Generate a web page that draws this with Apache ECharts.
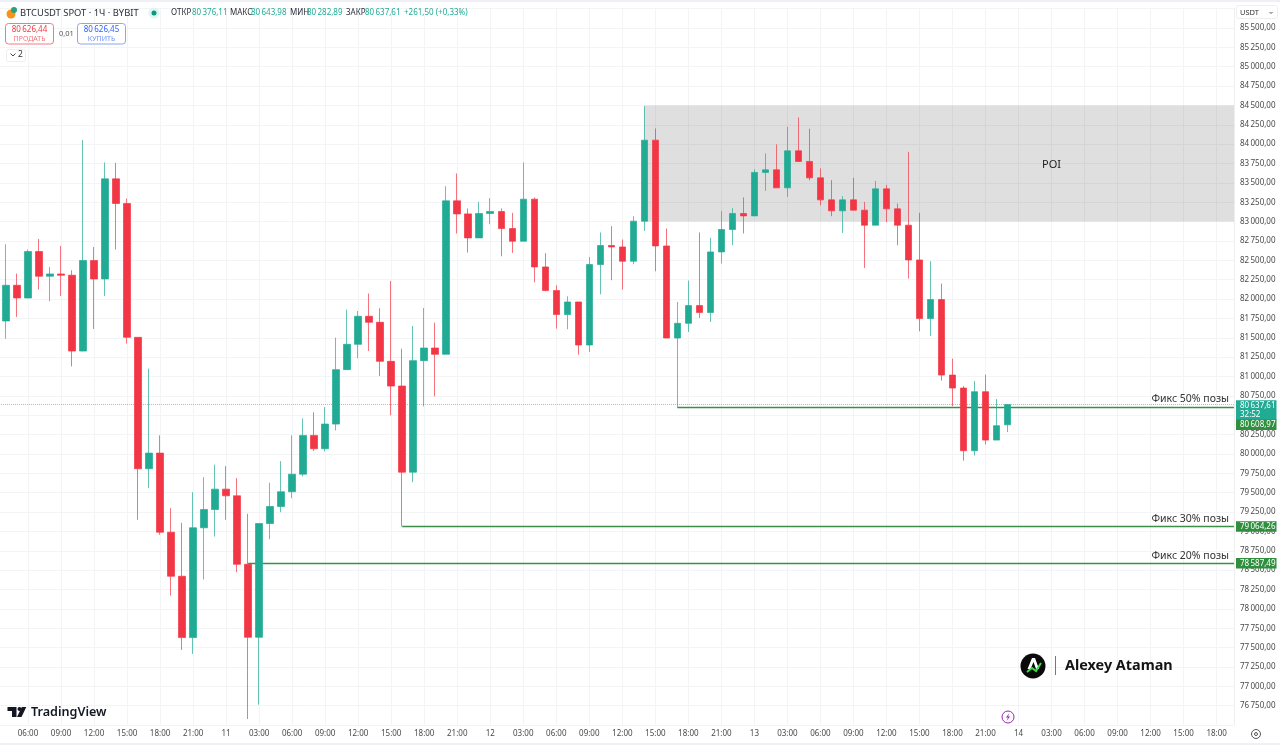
<!DOCTYPE html>
<html>
<head>
<meta charset="utf-8">
<style>html,body{margin:0;padding:0;background:#fff}#c{width:1280px;height:745px}</style>
<script src="https://cdn.jsdelivr.net/npm/echarts@6/dist/echarts.min.js"></script>
</head>
<body>
<div id="c"></div>
<script>
// Hour offset of the first candle, counted from 00:00 on day 10
const firstHour = 4;
const opens = [81717,82178,82014,82614,82295,82324,82308,81329,82498,82260,83552,83234,81506,79809,80011,78990,78421,77629,79047,79283,79546,79460,78576,77633,79102,79322,79512,79739,80240,80068,80386,81089,81416,81778,81700,81196,80877,79765,81205,81368,81287,83268,83100,82790,83105,83131,82911,82747,83290,82415,82110,81800,81963,81407,82446,82692,82673,82489,83006,84052,82686,81497,81687,81916,81826,82609,82898,83105,83074,83635,83669,83436,83914,83777,83565,83281,83139,83281,83148,82954,83423,83165,82954,82505,81748,81994,81019,80851,80042,80804,80179,80376.11];
const closes = [82178,82014,82614,82295,82324,82308,81329,82498,82260,83552,83234,81506,79809,80011,78990,78421,77629,79047,79283,79546,79460,78576,77633,79102,79322,79512,79739,80240,80068,80386,81089,81416,81778,81700,81196,80877,79765,81205,81368,81287,83268,83100,82790,83105,83131,82911,82747,83290,82415,82110,81800,81963,81407,82446,82692,82673,82489,83006,84052,82686,81497,81687,81916,81826,82609,82898,83105,83074,83635,83669,83436,83914,83777,83565,83281,83139,83281,83148,82954,83423,83165,82954,82505,81748,81994,81019,80851,80042,80804,80179,80365,80637.61];
const lows = [81489,81769,82010,82123,81972,82040,81131,81325,81614,82040,82640,81425,79150,79559,78956,78172,77470,77418,78379,78934,79150,78473,76578,76763,78899,79248,79429,79710,80037,80033,80304,81089,81235,81329,81006,80498,79064,79636,80614,80744,81287,82847,82601,82790,82967,82553,82596,82747,82217,82101,81619,81610,81283,81316,82062,82243,82123,82450,82880,82359,81497,80602,81575,81756,81704,82459,82695,82847,83074,83397,83436,83320,83777,83532,83209,83070,82854,83148,82402,82954,82993,82695,82265,81584,81523,80947,80618,79913,79981,80123,80179,80282.89];
const highs = [82708,82330,82640,82777,82415,82686,82372,84052,82673,83764,83759,83299,81506,81102,80240,79300,79111,79507,79701,79861,79843,79688,79228,79102,79628,79907,80240,80459,80537,80605,81502,81864,81846,82071,81881,82234,81360,81652,81885,81696,83458,83622,83170,83255,83303,83170,83113,83764,83312,82592,82178,82036,81963,82544,82860,82941,82769,83070,84492,84204,82911,81963,82239,82860,82790,83135,83174,83312,83674,83881,83997,84224,84346,84199,83687,83535,83329,83565,83255,83526,83475,83234,83901,83113,82489,82200,81231,80877,80941,81024,80709,80643.98];

const xTickLabels = ["06:00","09:00","12:00","15:00","18:00","21:00","11","03:00","06:00","09:00","12:00","15:00","18:00","21:00","12","03:00","06:00","09:00","12:00","15:00","18:00","21:00","13","03:00","06:00","09:00","12:00","15:00","18:00","21:00","14","03:00","06:00","09:00","12:00","15:00","18:00"];

const poiHigh = 84500;
const poiLow = 83000;
const poiStartCandle = 58;
const lastPrice = 80637.61;
const countdown = "32:52";
const fixPrices = [80608.97, 79064.26, 78587.49];
const fixLabels = ["Фикс 50% позы", "Фикс 30% позы", "Фикс 20% позы"];
const fixStartCandles = [61, 36, 22];
const fixTagShift = [18, 0, 0];

const UP = '#22ab94', DOWN = '#f23645';
const FONT = '"Noto Sans", sans-serif';
const X_MAX = 115.58;
const TS = '\u2009';

function fmt(v) {
  const s = Number(v).toFixed(2).replace('.', ',');
  return s.replace(/^(\d+)(\d{3}),/, '$1' + TS + '$2,');
}
const candles = opens.map((o, i) => [firstHour + i, o, closes[i], lows[i], highs[i]]);

function txt(text, x, y, fill, size, opt) {
  return {
    type: 'text', x, y, silent: true,
    style: { text, fill, font: (opt && opt.weight || 'normal') + ' ' + size + 'px ' + FONT,
      align: opt && opt.align || 'left', verticalAlign: 'middle' }
  };
}

const header = [
  ['BTCUSDT SPOT · 1Ч · BYBIT', 20, 13, '#2a2e39', 9.4],
  ['ОТКР', 171, 13, '#2a2e39', 8], ['80' + TS + '376,11', 192, 13, UP, 8],
  ['МАКС', 230, 13, '#2a2e39', 8], ['80' + TS + '643,98', 251, 13, UP, 8],
  ['МИН', 290, 13, '#2a2e39', 8], ['80' + TS + '282,89', 307, 13, UP, 8],
  ['ЗАКР', 346, 13, '#2a2e39', 8], ['80' + TS + '637,61', 365, 13, UP, 8],
  ['+261,50 (+0,33%)', 404, 13, UP, 8],
  ['0,01', 59, 34, '#555', 7.5],
  ['2', 18, 55, '#333', 8.5]
];

const graphics = [
  { type: 'rect', silent: true, shape: { x: 0, y: 0, width: 1280, height: 2 }, style: { fill: '#eef0f5' } },
  { type: 'rect', silent: true, shape: { x: 0, y: 743, width: 1280, height: 2 }, style: { fill: '#eef0f5' } },
  // symbol icons
  { type: 'circle', silent: true, shape: { cx: 11, cy: 14, r: 4.5 }, style: { fill: '#f7931a' } },
  { type: 'circle', silent: true, shape: { cx: 14, cy: 10, r: 3 }, style: { fill: '#26a17b' } },
  { type: 'circle', silent: true, shape: { cx: 154, cy: 13, r: 5.5 }, style: { fill: '#dff5f0' } },
  { type: 'circle', silent: true, shape: { cx: 154, cy: 13, r: 2.5 }, style: { fill: '#089981' } },
  // trade buttons
  { type: 'rect', silent: true, shape: { x: 5.5, y: 23.5, width: 48, height: 20.5, r: 3 }, style: { fill: '#fff', stroke: '#f27a84', lineWidth: 1 } },
  { type: 'rect', silent: true, shape: { x: 77.5, y: 23.5, width: 48, height: 20.5, r: 3 }, style: { fill: '#fff', stroke: '#8aa6f5', lineWidth: 1 } },
  txt('80' + TS + '626,44', 29.5, 29.5, DOWN, 8, { align: 'center' }),
  txt('ПРОДАТЬ', 29.5, 38.5, '#f0717b', 7, { align: 'center' }),
  txt('80' + TS + '626,45', 101.5, 29.5, '#2962ff', 8, { align: 'center' }),
  txt('КУПИТЬ', 101.5, 38.5, '#6f90f5', 7, { align: 'center' }),
  { type: 'rect', silent: true, shape: { x: 6.5, y: 49.5, width: 19, height: 12, r: 2 }, style: { fill: '#fff', stroke: '#eeeeee', lineWidth: 1 } },
  { type: 'polyline', silent: true, shape: { points: [[10.5, 53.5], [13, 56], [15.5, 53.5]] }, style: { fill: null, stroke: '#444', lineWidth: 1 } },
  // USDT selector
  { type: 'rect', silent: true, shape: { x: 1236.5, y: 5.5, width: 41, height: 13, r: 2 }, style: { fill: '#fff', stroke: '#efefef', lineWidth: 1 } },
  txt('USDT', 1240, 12.5, '#333', 7.5),
  { type: 'polyline', silent: true, shape: { points: [[1269.5, 12], [1271, 13.5], [1272.5, 12]] }, style: { fill: null, stroke: '#555', lineWidth: 1 } },
  // settings icon
  { type: 'circle', silent: true, shape: { cx: 1256, cy: 734, r: 4.5 }, style: { fill: null, stroke: '#555', lineWidth: 1 } },
  { type: 'circle', silent: true, shape: { cx: 1256, cy: 734, r: 1.5 }, style: { fill: null, stroke: '#555', lineWidth: 1 } },
  // lightning event icon
  { type: 'circle', silent: true, shape: { cx: 1008, cy: 717, r: 6 }, style: { fill: '#fff', stroke: '#9c27b0', lineWidth: 1 } },
  { type: 'polygon', silent: true, shape: { points: [[1009.5, 713], [1006, 717.5], [1008, 717.5], [1006.5, 721], [1010, 716.5], [1008, 716.5]] }, style: { fill: '#9c27b0' } },
  // TradingView logo
  { type: 'polygon', silent: true, shape: { points: [[7.5, 707], [16.5, 707], [16.5, 717], [12, 717], [12, 711], [7.5, 711]] }, style: { fill: '#131722' } },
  { type: 'circle', silent: true, shape: { cx: 19.5, cy: 709, r: 2 }, style: { fill: '#131722' } },
  { type: 'polygon', silent: true, shape: { points: [[21.8, 707], [26.3, 707], [21.5, 717], [17, 717]] }, style: { fill: '#131722' } },
  txt('TradingView', 31, 712.5, '#131722', 12.6, { weight: '600' }),
  // author watermark
  { type: 'circle', silent: true, shape: { cx: 1033, cy: 666, r: 12.5 }, style: { fill: '#0a0a0a' } },
  { type: 'polygon', silent: true, shape: { points: [[1032, 658], [1035, 658], [1039, 669], [1036, 669], [1033.5, 662], [1030.5, 669], [1027.5, 669]] }, style: { fill: '#ffffff' } },
  { type: 'polyline', silent: true, shape: { points: [[1027, 672], [1032, 668], [1036, 671], [1041, 663]] }, style: { fill: null, stroke: '#3ddc4a', lineWidth: 2 } },
  { type: 'rect', silent: true, shape: { x: 1055, y: 656, width: 1, height: 19 }, style: { fill: '#777' } },
  txt('Alexey Ataman', 1065, 666, '#141414', 14.4, { weight: 'bold' })
];
header.forEach(h => graphics.push(txt(h[0], h[1], h[2], h[3], h[4])));

const tagLabel = (color, shift, fmtr) => ({
  show: true, position: 'end', distance: 2, formatter: fmtr, color: '#fff', fontSize: 8, fontFamily: FONT,
  backgroundColor: color, padding: [1, 1, 0, 4], offset: [0, shift], lineHeight: 9.5, opacity: 1
});
const fixLineStyle = { color: '#3b8f48', width: 1.4, type: 'solid', opacity: 1 };

const lineData = [];
// last price: dotted line over the whole pane
lineData.push({
  yAxis: lastPrice, symbol: 'none',
  lineStyle: { color: 'rgba(34,171,148,0.55)', width: 1, type: 'dotted', opacity: 1 },
  label: Object.assign(tagLabel(UP, 5.6, () => fmt(lastPrice) + '\n' + countdown), { padding: [1, 1, 1, 4], lineHeight: 9 })
});
fixPrices.forEach((p, k) => {
  const start = firstHour + fixStartCandles[k];
  // the line itself with its caption
  lineData.push([
    { coord: [start, p], lineStyle: fixLineStyle,
      label: { show: true, position: 'insideEndTop', formatter: fixLabels[k], color: '#333', fontSize: 10.5, fontFamily: FONT, distance: [5, 2], opacity: 1 } },
    { coord: [X_MAX, p] }
  ]);
  // invisible twin carrying the axis price tag
  lineData.push([
    { coord: [start, p], lineStyle: { color: 'rgba(0,0,0,0)', width: 0, opacity: 1 },
      label: tagLabel('#2f8f3f', fixTagShift[k], () => fmt(p)) },
    { coord: [X_MAX, p] }
  ]);
});

const chart = echarts.init(document.getElementById('c'), null, { renderer: 'canvas' });
chart.setOption({
  animation: false,
  backgroundColor: '#ffffff',
  grid: { left: -5, width: 1239, top: 8.64, height: 716.4, outerBoundsMode: 'none' },
  xAxis: {
    type: 'value', min: 3, max: X_MAX, interval: 3,
    axisLine: { show: false }, axisTick: { show: false },
    splitLine: { show: true, lineStyle: { color: '#f3f4f6', width: 1 } },
    axisLabel: {
      color: '#4a4a4a', fontSize: 8, fontFamily: FONT, margin: 5, hideOverlap: false,
      showMinLabel: true, showMaxLabel: false,
      formatter: v => { const k = (v - 6) / 3; return Number.isInteger(k) && xTickLabels[k] ? xTickLabels[k] : ''; }
    }
  },
  yAxis: {
    type: 'value', position: 'right', min: 76500, max: 85750, interval: 250, scale: true,
    axisLine: { show: true, lineStyle: { color: '#eeeeee' } }, axisTick: { show: false },
    splitLine: { show: true, lineStyle: { color: '#f3f4f6', width: 1 } },
    axisLabel: {
      color: '#4a4a4a', fontSize: 8, fontFamily: FONT, margin: 6,
      formatter: v => (v <= 76500 || v >= 85750) ? '' : fmt(v)
    }
  },
  series: [{
    type: 'candlestick',
    data: candles,
    barWidth: 7,
    itemStyle: { color: UP, color0: DOWN, borderColor: 'rgba(34,171,148,0.7)', borderColor0: 'rgba(242,54,69,0.7)', borderColorDoji: 'rgba(242,54,69,0.7)', borderWidth: 1 },
    markArea: {
      silent: true, z: 1,
      itemStyle: { color: 'rgba(0,0,0,0.125)' },
      data: [[{ coord: [firstHour + poiStartCandle, poiHigh] }, { coord: [X_MAX, poiLow] }]]
    },
    markPoint: {
      silent: true, symbol: 'circle', symbolSize: 0,
      label: { show: true, position: 'inside', formatter: 'POI', color: '#222', fontSize: 11, fontFamily: FONT },
      data: [{ coord: [99, 83730] }]
    },
    markLine: {
      silent: true, z: 1, symbol: 'none', animation: false,
      data: lineData
    }
  }]
});
chart.setOption({ graphic: graphics });
</script>
</body>
</html>
